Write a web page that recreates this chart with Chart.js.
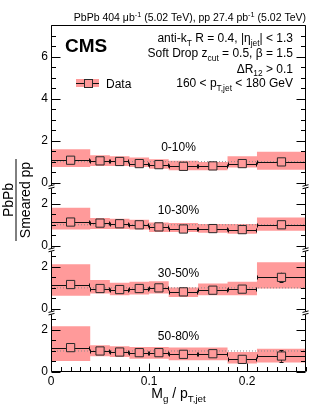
<!DOCTYPE html>
<html>
<head>
<meta charset="utf-8">
<script src="https://cdn.jsdelivr.net/npm/chart.js@4.4.1/dist/chart.umd.min.js"></script>
<style>
  html, body { margin: 0; padding: 0; background: #fff; }
  #wrap { width: 332px; height: 410px; position: relative; }
</style>
</head>
<body>
<div id="wrap"><canvas id="chart"></canvas></div>
<script>
// Mg / pT,jet binning
const binEdges = [0, 0.04, 0.06, 0.08, 0.10, 0.12, 0.15, 0.18, 0.21, 0.26];
const binCenters = [0.02, 0.05, 0.07, 0.09, 0.11, 0.135, 0.165, 0.195, 0.235];

const centralities = ['0-10%', '10-30%', '30-50%', '50-80%'];
const panelMax = [7.5, 3, 3, 3];

// PbPb / smeared pp, 0-10%
const ratio0to10 = [1.07, 1.04, 1.01, 0.91, 0.86, 0.78, 0.80, 0.91, 0.99];
const stat0to10 = [0.03, 0.02, 0.02, 0.02, 0.02, 0.02, 0.03, 0.04, 0.06];
const sysLow0to10 = [0.75, 0.80, 0.80, 0.75, 0.67, 0.59, 0.59, 0.72, 0.62];
const sysHigh0to10 = [1.59, 1.31, 1.26, 1.20, 1.12, 1.04, 0.99, 1.26, 1.47];

// 10-30%
const ratio10to30 = [1.13, 1.08, 1.05, 1.00, 0.90, 0.80, 0.82, 0.77, 1.00];
const stat10to30 = [0.04, 0.02, 0.02, 0.02, 0.02, 0.03, 0.03, 0.04, 0.07];
const sysLow10to30 = [0.77, 0.80, 0.80, 0.77, 0.66, 0.66, 0.62, 0.57, 0.72];
const sysHigh10to30 = [1.81, 1.32, 1.29, 1.24, 1.11, 1.08, 1.04, 1.04, 1.35];

// 30-50%
const ratio30to50 = [1.16, 0.97, 0.92, 0.97, 1.00, 0.81, 0.89, 0.94, 1.50];
const stat30to50 = [0.06, 0.03, 0.03, 0.03, 0.04, 0.04, 0.05, 0.07, 0.22];
const sysLow30to50 = [0.62, 0.73, 0.65, 0.68, 0.73, 0.57, 0.65, 0.65, 0.97];
const sysHigh30to50 = [2.12, 1.37, 1.24, 1.29, 1.32, 1.02, 1.21, 1.29, 2.22];

// 50-80%
const ratio50to80 = [1.16, 1.00, 0.95, 0.92, 0.92, 0.84, 0.87, 0.60, 0.76];
const stat50to80 = [0.08, 0.04, 0.04, 0.04, 0.05, 0.05, 0.06, 0.08, 0.27];
const sysLow50to80 = [0.52, 0.75, 0.71, 0.63, 0.63, 0.56, 0.56, 0.40, 0.45];
const sysHigh50to80 = [2.17, 1.27, 1.22, 1.19, 1.19, 1.16, 1.16, 0.95, 1.11];

const panels = [
    { ratio: ratio0to10, stat: stat0to10, lo: sysLow0to10, hi: sysHigh0to10 },
    { ratio: ratio10to30, stat: stat10to30, lo: sysLow10to30, hi: sysHigh10to30 },
    { ratio: ratio30to50, stat: stat30to50, lo: sysLow30to50, hi: sysHigh30to50 },
    { ratio: ratio50to80, stat: stat50to80, lo: sysLow50to80, hi: sysHigh50to80 }
];

const FONT = '"Liberation Sans", Arial, Helvetica, sans-serif';
const BAND = '#ff9a9a';
Chart.defaults.font.family = FONT;

// stepped edge of a systematic band: one point per bin start + closing point
const stepPoints = (vals) => {
    const pts = vals.map((v, i) => ({ x: binEdges[i], y: v }));
    pts.push({ x: binEdges[binEdges.length - 1], y: vals[vals.length - 1] });
    return pts;
};

const datasets = [];
const scales = {
    x: {
        type: 'linear', min: 0, max: 0.26, position: 'bottom',
        grid: { display: false, drawTicks: false },
        border: { display: false },
        ticks: {
            stepSize: 0.1, autoSkip: false, maxRotation: 0, padding: 2,
            color: '#000', font: { size: 12 },
            callback: v => {
                const r = Math.round(v * 10) / 10;
                return Math.abs(r - v) < 1e-9 ? String(r) : '';
            }
        },
        afterFit: s => { s.height = 38; }
    }
};

panels.forEach((p, k) => {
    const yId = 'y' + k;
    scales[yId] = {
        type: 'linear', position: 'left', stack: 'ratio',
        stackWeight: panelMax[k], weight: 4 - k,
        min: 0, max: panelMax[k],
        grid: { display: false, drawTicks: false },
        border: { display: false },
        ticks: {
            stepSize: 0.5, autoSkip: false, padding: 3,
            color: '#000', font: { size: 12 },
            callback: v => (v % 2 === 0 ? String(v) : '')
        },
        afterFit: s => { s.width = 51; }
    };
    datasets.push({
        data: stepPoints(p.hi), yAxisID: yId, stepped: true,
        borderWidth: 0, pointRadius: 0, fill: false, order: 10
    });
    datasets.push({
        data: stepPoints(p.lo), yAxisID: yId, stepped: true,
        borderWidth: 0, pointRadius: 0, fill: '-1', backgroundColor: BAND, order: 10
    });
    datasets.push({
        data: [{ x: 0, y: 1 }, { x: 0.26, y: 1 }], yAxisID: yId,
        borderColor: '#8a8a8a', borderWidth: 1, borderDash: [1, 2],
        pointRadius: 0, fill: false, order: 5
    });
    datasets.push({
        data: p.ratio.map((v, i) => ({ x: binCenters[i], y: v })), yAxisID: yId,
        showLine: false, pointStyle: 'rect', pointRadius: 5.8,
        pointBackgroundColor: BAND, pointBorderColor: '#2a2a2a', pointBorderWidth: 1,
        order: 0, panel: k
    });
});

function drawRich(ctx, parts, x, y, size, align) {
    const small = size * 0.7;
    const widths = parts.map(([t, kind]) => {
        ctx.font = (kind ? small : size) + 'px ' + FONT;
        return ctx.measureText(t).width;
    });
    const total = widths.reduce((a, b) => a + b, 0);
    let cx = align === 'right' ? x - total : align === 'center' ? x - total / 2 : x;
    ctx.textAlign = 'left';
    ctx.textBaseline = 'alphabetic';
    parts.forEach(([t, kind], i) => {
        ctx.font = (kind ? small : size) + 'px ' + FONT;
        const dy = kind === 'sub' ? size * 0.3 : kind === 'sup' ? -size * 0.4 : 0;
        ctx.fillText(t, cx, y + dy);
        cx += widths[i];
    });
}

const cmsDecor = {
    id: 'cmsDecor',
    beforeDatasetDraw(chart, args) {
        const ds = chart.data.datasets[args.index];
        if (ds.panel === undefined) return;
        const p = panels[ds.panel];
        const xs = chart.scales.x;
        const ys = chart.scales['y' + ds.panel];
        const ctx = chart.ctx;
        ctx.save();
        ctx.strokeStyle = '#111';
        ctx.lineWidth = 1;
        ctx.beginPath();
        p.ratio.forEach((v, i) => {
            const x0 = Math.round(xs.getPixelForValue(binEdges[i]));
            const x1 = Math.round(xs.getPixelForValue(binEdges[i + 1]));
            const xc = Math.round(xs.getPixelForValue(binCenters[i])) + 0.5;
            const yc = Math.round(ys.getPixelForValue(v)) + 0.5;
            const yt = ys.getPixelForValue(v + p.stat[i]);
            const yb = ys.getPixelForValue(v - p.stat[i]);
            ctx.moveTo(x0, yc); ctx.lineTo(x1, yc);
            ctx.moveTo(x0 + 0.5, yc - 2); ctx.lineTo(x0 + 0.5, yc + 2);
            ctx.moveTo(x1 - 0.5, yc - 2); ctx.lineTo(x1 - 0.5, yc + 2);
            ctx.moveTo(xc, yt); ctx.lineTo(xc, yb);
            ctx.moveTo(xc - 2, Math.round(yt) + 0.5); ctx.lineTo(xc + 2, Math.round(yt) + 0.5);
            ctx.moveTo(xc - 2, Math.round(yb) + 0.5); ctx.lineTo(xc + 2, Math.round(yb) + 0.5);
        });
        ctx.stroke();
        ctx.restore();
    },
    afterDraw(chart) {
        const ctx = chart.ctx;
        const a = chart.chartArea;
        const xs = chart.scales.x;
        const L = Math.round(a.left) + 0.5, R = Math.round(a.right) - 0.5;
        const T = Math.round(a.top) + 0.5, B = Math.round(a.bottom) - 0.5;
        ctx.save();
        ctx.strokeStyle = '#000';
        ctx.lineWidth = 1;
        ctx.beginPath();
        ctx.rect(L, T, R - L, B - T);
        // y ticks, both sides, every 0.5 with majors at multiples of 2
        panels.forEach((p, k) => {
            const ys = chart.scales['y' + k];
            for (let v = 0; v <= panelMax[k] + 1e-9; v += 0.5) {
                const y = Math.round(ys.getPixelForValue(v)) + 0.5;
                const len = v % 2 === 0 ? 9 : 4.5;
                ctx.moveTo(L, y); ctx.lineTo(L + len, y);
                ctx.moveTo(R, y); ctx.lineTo(R - len, y);
            }
        });
        // x ticks every 0.01
        for (let i = 0; i <= 26; i++) {
            const x = Math.round(xs.getPixelForValue(i / 100)) + 0.5;
            const len = i % 10 === 0 ? 8 : 4.5;
            ctx.moveTo(x, B); ctx.lineTo(x, B - len);
        }
        ctx.stroke();

        // axis break marks between panels
        for (let k = 0; k < 3; k++) {
            const y = chart.scales['y' + k].getPixelForValue(0) + 4;
            [L, R].forEach(x => {
                ctx.fillStyle = '#fff';
                ctx.fillRect(x - 3, y - 1.5, 6, 3);
                ctx.beginPath();
                ctx.moveTo(x - 3, y - 0.5); ctx.lineTo(x + 3, y - 2);
                ctx.moveTo(x - 3, y + 2); ctx.lineTo(x + 3, y + 0.5);
                ctx.stroke();
            });
        }

        ctx.fillStyle = '#000';
        // header
        drawRich(ctx, [['PbPb 404 \u03bcb', ''], ['-1', 'sup'], [' (5.02 TeV), pp 27.4 pb', ''], ['-1', 'sup'], [' (5.02 TeV)', '']], 306, 21, 10.5, 'right');
        // CMS
        ctx.font = 'bold 19px ' + FONT;
        ctx.textAlign = 'left';
        ctx.textBaseline = 'alphabetic';
        ctx.fillText('CMS', 65, 51.5);
        // selection text
        drawRich(ctx, [['anti-k', ''], ['T', 'sub'], [' R = 0.4, |\u03b7', ''], ['jet', 'sub'], ['| < 1.3', '']], 293, 42, 12, 'right');
        drawRich(ctx, [['Soft Drop z', ''], ['cut', 'sub'], [' = 0.5, \u03b2 = 1.5', '']], 293, 57, 12, 'right');
        drawRich(ctx, [['\u0394R', ''], ['12', 'sub'], [' > 0.1', '']], 293, 72.5, 12, 'right');
        drawRich(ctx, [['160 < p', ''], ['T,jet', 'sub'], [' < 180 GeV', '']], 293, 87, 12, 'right');

        // legend
        ctx.fillStyle = BAND;
        ctx.fillRect(76, 79, 23, 8);
        ctx.beginPath();
        ctx.moveTo(76, 83.5); ctx.lineTo(99, 83.5);
        ctx.strokeStyle = '#111';
        ctx.stroke();
        ctx.fillStyle = BAND;
        ctx.fillRect(84, 79.5, 8, 8);
        ctx.strokeStyle = '#2a2a2a';
        ctx.strokeRect(84.5, 79.5, 8, 8);
        ctx.fillStyle = '#000';
        ctx.font = '12px ' + FONT;
        ctx.fillText('Data', 106, 87.5);

        // centrality labels
        ctx.textAlign = 'center';
        centralities.forEach((c, k) => {
            const ys = chart.scales['y' + k];
            ctx.fillText(c, (a.left + a.right) / 2, ys.getPixelForValue(1.5));
        });

        // axis titles
        drawRich(ctx, [['M', ''], ['g', 'sub'], [' / p', ''], ['T,jet', 'sub']], (a.left + a.right) / 2, 398, 14, 'center');
        ctx.save();
        ctx.translate(0, 200);
        ctx.rotate(-Math.PI / 2);
        ctx.font = '14px ' + FONT;
        ctx.textAlign = 'center';
        ctx.fillText('PbPb', 0, 12.5);
        ctx.fillText('Smeared pp', 0, 30);
        ctx.beginPath();
        ctx.moveTo(-41, 16); ctx.lineTo(41, 16);
        ctx.strokeStyle = '#000';
        ctx.stroke();
        ctx.restore();
        ctx.restore();
    }
};

new Chart(document.getElementById('chart'), {
    type: 'line',
    data: { datasets },
    options: {
        responsive: true,
        maintainAspectRatio: false,
        animation: false,
        events: [],
        layout: { padding: { top: 25, right: 26, left: 0, bottom: 0 } },
        plugins: { legend: { display: false }, tooltip: { enabled: false } },
        scales
    },
    plugins: [cmsDecor]
});
</script>
</body>
</html>
